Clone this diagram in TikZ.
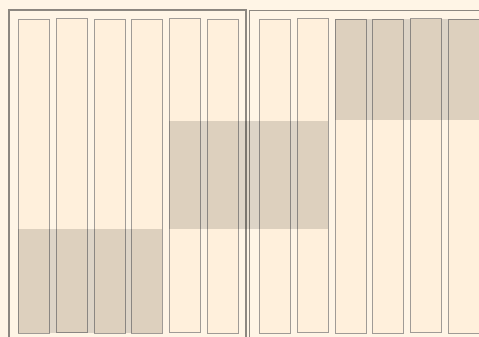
\documentclass[tikz,border=0pt]{standalone}
\begin{document}
\begin{tikzpicture}[x=1pt,y=-1pt,
  bg/.style={fill={rgb,255:red,255;green,245;blue,230}},
  frame/.style={draw={rgb,255:red,140;green,135;blue,128},line width=1.1pt},
  col/.style={draw={rgb,255:red,160;green,155;blue,150},line width=0.8pt,fill={rgb,255:red,255;green,240;blue,220}},
  shade/.style={fill=black,fill opacity=0.135}]
\useasboundingbox (0,0) rectangle (479,337);
\fill[bg] (0,0) rectangle (479,337);
\draw[frame] (9,10) rectangle (246,345);
\draw[frame] (249.5,10.5) rectangle (490,345);
\foreach \x/\t/\b [count=\i] in {18/19/333, 56/18/332, 94/19/333, 131/19/333, 169/18/332, 207/19/333, 259/19/333, 297/18/332, 335/19/333, 372/19/333, 410/18/332, 448/19/333}
  \draw[col] (\x,\t) rectangle ++(31,\b-\t) coordinate (c\i);
\fill[shade] (18,229) rectangle (162,333);
\fill[shade] (169,121) rectangle (328,229);
\fill[shade] (335,19) rectangle (479,120);
\end{tikzpicture}
\end{document}
